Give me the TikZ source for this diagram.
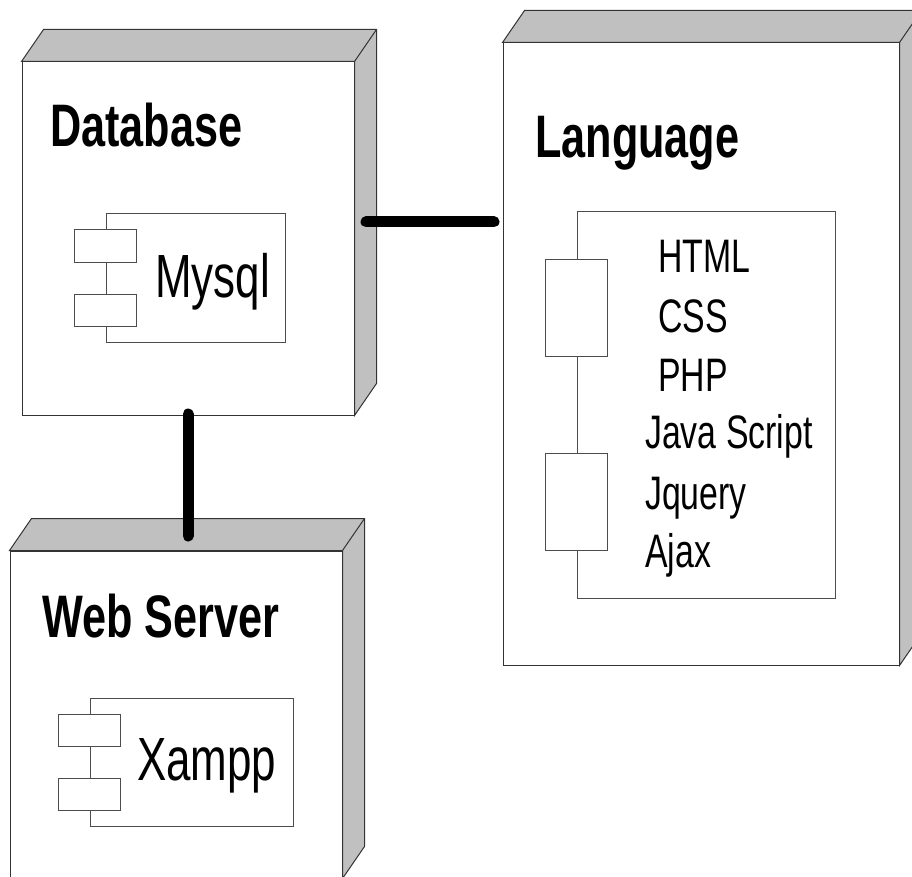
\documentclass[tikz,border=0pt]{standalone}
\usepackage{fontspec}
\newfontfamily\narrowsans[FakeStretch=0.72]{Liberation Sans}
\usetikzlibrary{calc}
\definecolor{facegray}{HTML}{C0C0C0}

\begin{document}
\begin{tikzpicture}[x=1pt, y=-1pt,
    front/.style={rectangle, draw=black!80, line width=1pt, fill=white, inner sep=0pt},
    face/.style={draw=black!80, line width=1pt, fill=facegray},
    comp/.style={rectangle, draw=black!70, line width=1pt, fill=white, inner sep=0pt},
    port/.style={rectangle, draw=black!70, line width=1pt, fill=white, inner sep=0pt, minimum width=62pt},
    title/.style={anchor=base west, inner sep=0pt, font=\narrowsans\bfseries\fontsize{60}{70}\selectfont},
    label/.style={anchor=base west, inner sep=0pt, font=\narrowsans\fontsize{61}{70}\selectfont},
    item/.style={anchor=base west, inner sep=0pt, font=\narrowsans\fontsize{47}{56}\selectfont},
    link/.style={line width=11pt, line cap=round, black}]
      \useasboundingbox (0,0) rectangle (912,877);
      \clip (0,0) rectangle (912,877);

      % Nodes (front faces)
      \node[front, minimum width=332pt, minimum height=353pt] (db) at (188,238.5) {};
      \node[front, minimum width=396pt, minimum height=622pt] (lang) at (701,354) {};
      \node[front, minimum width=332pt, minimum height=327pt] (web) at (176,714.5) {};

      % Top and side faces
      \foreach \n in {db,lang,web} {
        \filldraw[face] (\n.north west) -- ++(22,-32) -- ($(\n.north east)+(22,-32)$)
          -- ($(\n.south east)+(22,-32)$) -- (\n.south east) -- (\n.north east) -- cycle;
        \draw[face] (\n.north east) -- ++(22,-32);
      }

      % Titles
      \node[title] (dbtitle) at (50,147) {Database};
      \node[title] (langtitle) at (535,158) {Language};
      \node[title] (webtitle) at (42,637) {Web Server};

      % Components
      \node[comp, minimum width=179pt, minimum height=128pt] (mysql) at (195.5,278) {};
      \node[port, minimum height=32pt] (mysqltop) at ([yshift=32pt]mysql.west) {};
      \node[port, minimum height=32pt] (mysqlbot) at ([yshift=-32pt]mysql.west) {};
      \node[label] (mysqltext) at (155,297) {Mysql};

      \node[comp, minimum width=203pt, minimum height=128pt] (xampp) at (191.5,762) {};
      \node[port, minimum height=32pt] (xampptop) at ([yshift=32pt]xampp.west) {};
      \node[port, minimum height=32pt] (xamppbot) at ([yshift=-32pt]xampp.west) {};
      \node[label] (xampptext) at (137,780) {Xampp};

      \node[comp, minimum width=258pt, minimum height=386pt] (tools) at (706,405) {};
      \node[port, minimum height=97pt] (toolstop) at ([yshift=97pt]tools.west) {};
      \node[port, minimum height=97pt] (toolsbot) at ([yshift=-96.5pt]tools.west) {};
      \foreach \t/\x/\y [count=\i] in {HTML/658/272, CSS/658/332, PHP/658/391,
          Java Script/645/448, Jquery/645/509, Ajax/645/567}
        \node[item] (tool\i) at (\x,\y) {\t};

      % Connectors
      \draw[link] ($(db.east)+(11.5,-16.5)$) -- ($(lang.west)+(-8.5,-132)$);
      \draw[link] ($(db.south)+(0,-1.5)$) -- ($(web.north)+(12,-14.5)$);

    \end{tikzpicture}
\end{document}
